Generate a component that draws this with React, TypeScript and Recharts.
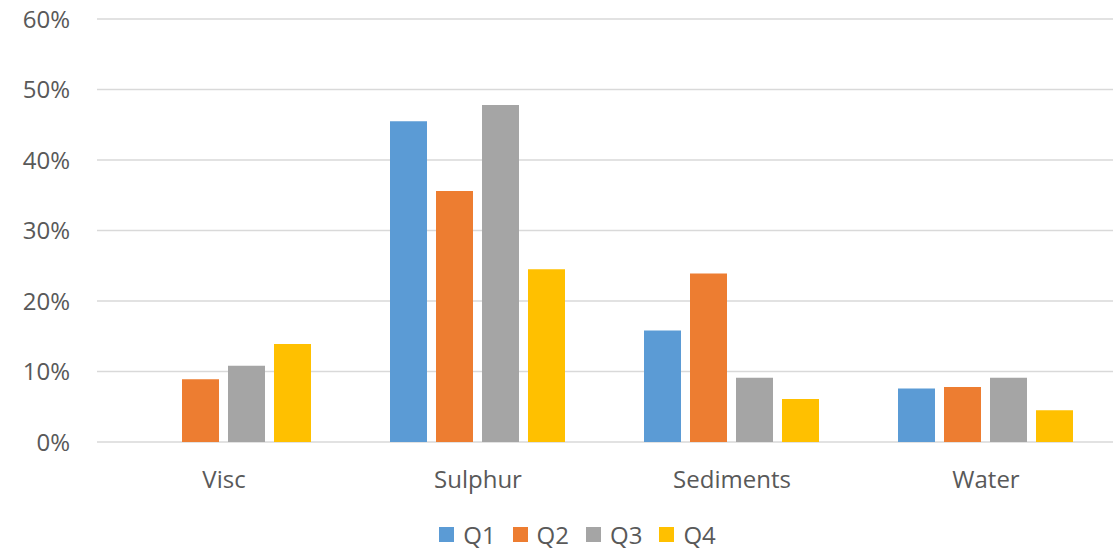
import { BarChart, Bar, XAxis, YAxis, CartesianGrid, Legend } from "recharts";

const categories = ["Visc", "Sulphur", "Sediments", "Water"];
const q1 = [0, 0.455, 0.158, 0.076];
const q2 = [0.089, 0.356, 0.239, 0.078];
const q3 = [0.108, 0.478, 0.091, 0.091];
const q4 = [0.139, 0.245, 0.061, 0.045];
const yTicks = [0, 0.1, 0.2, 0.3, 0.4, 0.5, 0.6];

const series = [
  { key: "Q1", values: q1, color: "#5B9BD5" },
  { key: "Q2", values: q2, color: "#ED7D31" },
  { key: "Q3", values: q3, color: "#A5A5A5" },
  { key: "Q4", values: q4, color: "#FFC000" },
];

const data = categories.map((name, i) => {
  const row: Record<string, any> = { name };
  series.forEach((s) => (row[s.key] = s.values[i]));
  return row;
});

const FONT = "'Open Sans', sans-serif";
const TEXT = "#595959";

const CustomLegend = () => (
  <div
    style={{
      display: "flex",
      justifyContent: "center",
      alignItems: "center",
      height: 46,
      fontFamily: FONT,
      fontSize: 24,
      color: TEXT,
      paddingLeft: 42,
    }}
  >
    {series.map((s, i) => (
      <div
        key={s.key}
        style={{ display: "flex", alignItems: "center", marginRight: i < series.length - 1 ? 17 : 0 }}
      >
        <span style={{ width: 15, height: 15, background: s.color, display: "inline-block", marginRight: 9 }} />
        <span>{s.key}</span>
      </div>
    ))}
  </div>
);

export default function App() {
  return (
    <div style={{ position: "absolute", left: 0, top: 0, background: "#fff" }}>
      <BarChart
        width={1119}
        height={557}
        data={data}
        margin={{ top: 19, right: 6, left: 0, bottom: 0 }}
        barCategoryGap={39}
        barGap={9}
      >
        <CartesianGrid vertical={false} stroke="#d9d9d9" strokeWidth={1.5} />
        <XAxis
          dataKey="name"
          axisLine={false}
          tickLine={false}
          tickSize={0}
          tickMargin={29}
          height={69}
          tick={{ fontSize: 24, fill: TEXT, fontFamily: FONT }}
        />
        <YAxis
          domain={[0, 0.6]}
          ticks={yTicks}
          axisLine={false}
          tickLine={false}
          tickSize={0}
          tickMargin={27}
          width={97}
          tickFormatter={(v: number) => `${Math.round(v * 100)}%`}
          tick={{ fontSize: 24, fill: TEXT, fontFamily: FONT }}
        />
        <Legend verticalAlign="bottom" height={46} content={<CustomLegend />} />
        {series.map((s) => (
          <Bar key={s.key} dataKey={s.key} fill={s.color} isAnimationActive={false} />
        ))}
      </BarChart>
    </div>
  );
}
